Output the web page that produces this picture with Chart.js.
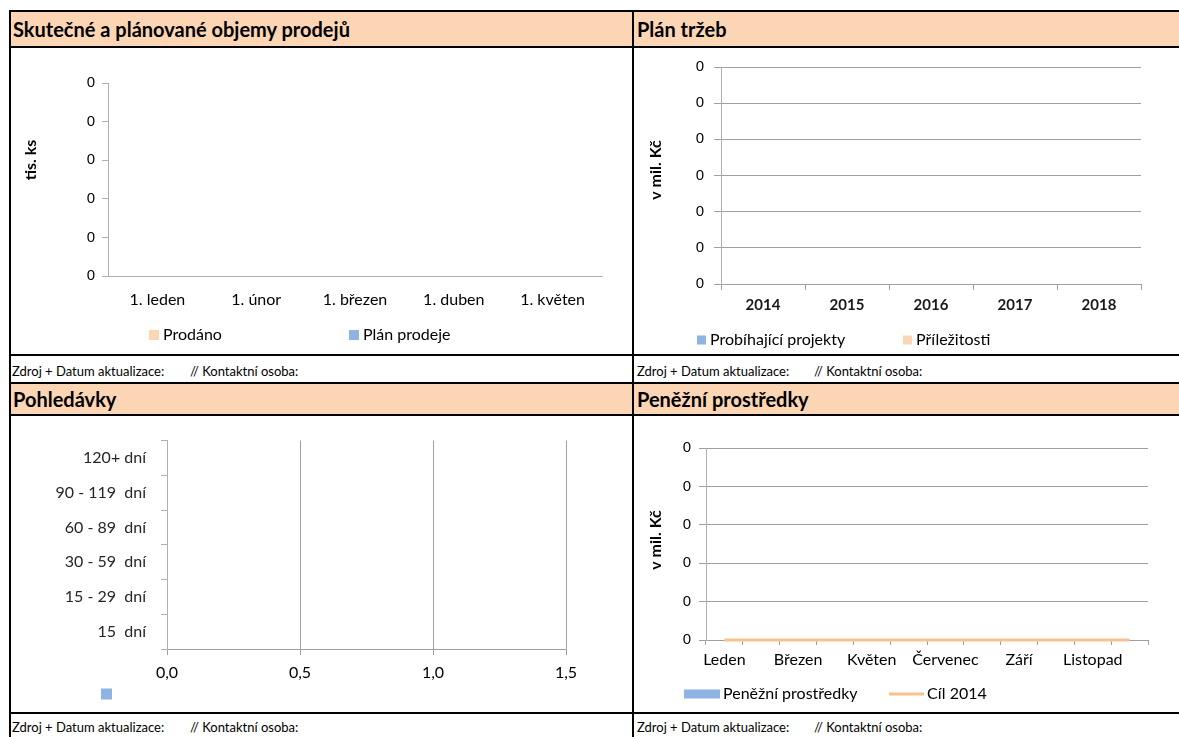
<!DOCTYPE html>
<html lang="cs">
<head>
<meta charset="utf-8">
<title>Přehled prodejů</title>
<script src="https://cdn.jsdelivr.net/npm/chart.js@4.4.1/dist/chart.umd.min.js"></script>
<style>
  html, body { margin: 0; padding: 0; background: #fff; }
  #sheet { position: relative; width: 1179px; height: 737px; overflow: hidden; font-family: Lato, "Open Sans", sans-serif; color: #000; }
  .fill { position: absolute; background: #FCD5B4; }
  .hline { position: absolute; left: 9px; width: 1170px; height: 2px; background: #000; }
  .vline { position: absolute; top: 10px; width: 2px; height: 727px; background: #000; }
  .title { position: absolute; font-weight: bold; font-size: 20px; line-height: 24px; white-space: nowrap; }
  .note { position: absolute; font-size: 13px; line-height: 16px; white-space: nowrap; }
  canvas { position: absolute; }
</style>
</head>
<body>
<div id="sheet">
  <div class="fill" style="left:11px;top:12px;width:621px;height:34px"></div>
  <div class="fill" style="left:634px;top:12px;width:545px;height:34px"></div>
  <div class="fill" style="left:11px;top:384px;width:621px;height:30px"></div>
  <div class="fill" style="left:634px;top:384px;width:545px;height:30px"></div>

  <div class="hline" style="top:10px"></div>
  <div class="hline" style="top:46px"></div>
  <div class="hline" style="top:354px"></div>
  <div class="hline" style="top:382px"></div>
  <div class="hline" style="top:414px"></div>
  <div class="hline" style="top:712px"></div>
  <div class="vline" style="left:9px"></div>
  <div class="vline" style="left:632px"></div>

  <div class="title" style="left:13px;top:17px">Skutečné a plánované objemy prodejů</div>
  <div class="title" style="left:637px;top:17px">Plán tržeb</div>
  <div class="title" style="left:13px;top:387px">Pohledávky</div>
  <div class="title" style="left:637px;top:387px">Peněžní prostředky</div>

  <div class="note" style="left:12px;top:363px">Zdroj + Datum aktualizace:</div>
  <div class="note" style="left:190px;top:363px">// Kontaktní osoba:</div>
  <div class="note" style="left:637px;top:363px">Zdroj + Datum aktualizace:</div>
  <div class="note" style="left:814px;top:363px">// Kontaktní osoba:</div>
  <div class="note" style="left:12px;top:719px">Zdroj + Datum aktualizace:</div>
  <div class="note" style="left:190px;top:719px">// Kontaktní osoba:</div>
  <div class="note" style="left:637px;top:719px">Zdroj + Datum aktualizace:</div>
  <div class="note" style="left:814px;top:719px">// Kontaktní osoba:</div>

  <canvas id="salesChart" width="622" height="306" style="left:10px;top:48px"></canvas>
  <canvas id="revenueChart" width="545" height="306" style="left:634px;top:48px"></canvas>
  <canvas id="receivablesChart" width="622" height="296" style="left:10px;top:416px"></canvas>
  <canvas id="cashChart" width="545" height="296" style="left:634px;top:416px"></canvas>
</div>

<script>
// Skutečné a plánované objemy prodejů (tis. ks)
const salesMonths = ['1. leden', '1. únor', '1. březen', '1. duben', '1. květen'];
const soldUnits = [0, 0, 0, 0, 0];
const plannedUnits = [0, 0, 0, 0, 0];
const unitTicks = [0, 0.01, 0.02, 0.03, 0.04, 0.05];

// Plán tržeb (v mil. Kč)
const revenueYears = ['2014', '2015', '2016', '2017', '2018'];
const ongoingProjects = [0, 0, 0, 0, 0];
const opportunities = [0, 0, 0, 0, 0];
const revenueTicks = [0, 0.01, 0.02, 0.03, 0.04, 0.05, 0.06];

// Pohledávky podle doby splatnosti
const receivableBuckets = ['120+ dní', '90 - 119  dní', '60 - 89  dní', '30 - 59  dní', '15 - 29  dní', '15  dní'];
const receivableValues = [0, 0, 0, 0, 0, 0];
const receivableTicks = [0, 0.5, 1.0, 1.5];

// Peněžní prostředky (v mil. Kč)
const cashMonths = ['Leden', 'Únor', 'Březen', 'Duben', 'Květen', 'Červen',
                    'Červenec', 'Srpen', 'Září', 'Říjen', 'Listopad', 'Prosinec'];
const cashBalance = [0, 0, 0, 0, 0, 0, 0, 0, 0, 0, 0, 0];
const cashTarget2014 = [0, 0, 0, 0, 0, 0, 0, 0, 0, 0, 0, 0];
const cashTicks = [0, 0.01, 0.02, 0.03, 0.04, 0.05];

const PEACH = '#FCD5B4';
const BLUE = '#8EB4E3';
const ORANGE = '#FAC090';
const GRID = '#A0A0A0';
const AXIS = '#B0B0B0';

Chart.defaults.font.family = 'Lato, "Open Sans", sans-serif';
Chart.defaults.color = '#000';

// legend entries placed at fixed spots under each chart, built from the datasets
const panelLegend = {
  id: 'panelLegend',
  afterDraw(chart, args, opts) {
    if (!opts.marks) return;
    const ctx = chart.ctx;
    ctx.save();
    ctx.font = '16px Lato, "Open Sans", sans-serif';
    ctx.textBaseline = 'middle';
    chart.data.datasets.forEach((ds, i) => {
      const m = opts.marks[i];
      if (!m) return;
      if (ds.type === 'line') {
        ctx.strokeStyle = ds.borderColor;
        ctx.lineWidth = ds.borderWidth;
        ctx.beginPath();
        ctx.moveTo(m.x, opts.y);
        ctx.lineTo(m.x + m.w, opts.y);
        ctx.stroke();
      } else {
        ctx.fillStyle = ds.backgroundColor;
        ctx.fillRect(m.x, opts.y - m.h / 2, m.w, m.h);
      }
      if (ds.label) {
        ctx.fillStyle = '#000';
        ctx.fillText(ds.label, m.x + m.w + opts.gap, opts.y);
      }
    });
    ctx.restore();
  }
};

// rotated value-axis caption
const sideTitle = {
  id: 'sideTitle',
  afterDraw(chart, args, o) {
    if (!o.text) return;
    const ctx = chart.ctx;
    ctx.save();
    ctx.translate(o.x, o.y);
    ctx.rotate(-Math.PI / 2);
    ctx.font = 'bold 16px Lato, "Open Sans", sans-serif';
    ctx.fillStyle = '#000';
    ctx.textAlign = 'center';
    ctx.textBaseline = 'middle';
    ctx.fillText(o.text, 0, 0);
    ctx.restore();
  }
};

const wholeNumber = v => Number(v).toFixed(0);
const valueTickFont = { family: '"Liberation Sans", Arial, sans-serif', size: 15 };
const useTicks = list => scale => { scale.ticks = list.map(value => ({ value })); };

const base = {
  responsive: false,
  animation: false,
  events: []
};

// 1) Skutečné a plánované objemy prodejů
new Chart(document.getElementById('salesChart'), {
  type: 'bar',
  data: {
    labels: salesMonths,
    datasets: [
      { label: 'Prodáno', data: soldUnits, backgroundColor: PEACH, borderWidth: 0 },
      { label: 'Plán prodeje', data: plannedUnits, backgroundColor: BLUE, borderWidth: 0 }
    ]
  },
  options: {
    ...base,
    layout: { padding: { left: 0, top: 35, right: 30, bottom: 28 } },
    plugins: {
      legend: { display: false },
      tooltip: { enabled: false },
      panelLegend: { y: 287, gap: 4, marks: [{ x: 139, w: 10, h: 10 }, { x: 339, w: 10, h: 10 }] },
      sideTitle: { text: 'tis. ks', x: 21, y: 112 }
    },
    scales: {
      x: {
        grid: { display: true, drawOnChartArea: false, drawTicks: false, color: AXIS },
        border: { color: AXIS },
        ticks: { padding: 14, font: { size: 16 }, color: '#000' },
        afterFit: s => { s.height = 50; }
      },
      y: {
        min: unitTicks[0], max: unitTicks[unitTicks.length - 1],
        afterBuildTicks: useTicks(unitTicks),
        grid: { drawOnChartArea: false, tickLength: 6, color: AXIS },
        border: { color: AXIS },
        ticks: { callback: wholeNumber, font: valueTickFont, color: '#000', padding: 7 },
        afterFit: s => { s.width = 98; }
      }
    }
  },
  plugins: [panelLegend, sideTitle]
});

// 2) Plán tržeb
new Chart(document.getElementById('revenueChart'), {
  type: 'bar',
  data: {
    labels: revenueYears,
    datasets: [
      { label: 'Probíhající projekty', data: ongoingProjects, backgroundColor: BLUE, borderWidth: 0 },
      { label: 'Příležitosti', data: opportunities, backgroundColor: PEACH, borderWidth: 0 }
    ]
  },
  options: {
    ...base,
    layout: { padding: { left: 0, top: 18, right: 38, bottom: 25 } },
    plugins: {
      legend: { display: false },
      tooltip: { enabled: false },
      panelLegend: { y: 292, gap: 4, marks: [{ x: 63, w: 9, h: 9 }, { x: 269, w: 9, h: 9 }] },
      sideTitle: { text: 'v mil. Kč', x: 22, y: 122 }
    },
    scales: {
      x: {
        stacked: true,
        grid: { offset: true, drawOnChartArea: false, tickLength: 6, color: GRID },
        border: { color: GRID },
        ticks: { padding: 6, font: { size: 15, weight: 'bold' }, color: '#1a1a1a' },
        afterFit: s => { s.height = 45; }
      },
      y: {
        stacked: true,
        min: revenueTicks[0], max: revenueTicks[revenueTicks.length - 1],
        afterBuildTicks: useTicks(revenueTicks),
        grid: { color: GRID, tickLength: 7 },
        border: { color: AXIS },
        ticks: { callback: wholeNumber, font: valueTickFont, color: '#000', padding: 10 },
        afterFit: s => { s.width = 87; }
      }
    }
  },
  plugins: [panelLegend, sideTitle]
});

// 3) Pohledávky
new Chart(document.getElementById('receivablesChart'), {
  type: 'bar',
  data: {
    labels: receivableBuckets,
    datasets: [
      { label: '', data: receivableValues, backgroundColor: BLUE, borderWidth: 0 }
    ]
  },
  options: {
    ...base,
    indexAxis: 'y',
    layout: { padding: { left: 0, top: 21, right: 66, bottom: 23 } },
    plugins: {
      legend: { display: false },
      tooltip: { enabled: false },
      panelLegend: { y: 278, gap: 4, marks: [{ x: 91, w: 11, h: 11 }] }
    },
    scales: {
      x: {
        min: receivableTicks[0], max: receivableTicks[receivableTicks.length - 1],
        afterBuildTicks: useTicks(receivableTicks),
        grid: { color: GRID, tickLength: 6 },
        border: { color: GRID },
        ticks: { callback: v => Number(v).toFixed(1).replace('.', ','), padding: 8, font: { size: 16 }, color: '#000' },
        afterFit: s => { s.height = 40; }
      },
      y: {
        grid: { offset: true, drawOnChartArea: false, tickLength: 6, color: AXIS },
        border: { color: AXIS },
        ticks: { padding: 15, font: { size: 16 }, color: '#262626' },
        afterFit: s => { s.width = 157; }
      }
    }
  },
  plugins: [panelLegend]
});

// 4) Peněžní prostředky
new Chart(document.getElementById('cashChart'), {
  type: 'bar',
  data: {
    labels: cashMonths,
    datasets: [
      { label: 'Peněžní prostředky', data: cashBalance, backgroundColor: BLUE, borderWidth: 0, order: 2 },
      { type: 'line', label: 'Cíl 2014', data: cashTarget2014, borderColor: ORANGE, borderWidth: 3,
        pointRadius: 0, fill: false, clip: false, order: 1 }
    ]
  },
  options: {
    ...base,
    layout: { padding: { left: 0, top: 32, right: 31, bottom: 32 } },
    plugins: {
      legend: { display: false },
      tooltip: { enabled: false },
      panelLegend: { y: 278, gap: 3, marks: [{ x: 50, w: 36, h: 9 }, { x: 255, w: 35 }] },
      sideTitle: { text: 'v mil. Kč', x: 22, y: 124 }
    },
    scales: {
      x: {
        grid: { offset: true, drawOnChartArea: false, tickLength: 5, color: GRID },
        border: { color: GRID },
        ticks: {
          autoSkip: false, maxRotation: 0, padding: 5, font: { size: 16 }, color: '#000',
          callback: (v, i) => (i % 2 === 0 ? cashMonths[i] : '')
        },
        afterFit: s => { s.height = 40; }
      },
      y: {
        min: cashTicks[0], max: cashTicks[cashTicks.length - 1],
        afterBuildTicks: useTicks(cashTicks),
        grid: { color: GRID, tickLength: 7 },
        border: { color: AXIS },
        ticks: { callback: wholeNumber, font: valueTickFont, color: '#000', padding: 8 },
        afterFit: s => { s.width = 72; }
      }
    }
  },
  plugins: [panelLegend, sideTitle]
});
</script>
</body>
</html>
